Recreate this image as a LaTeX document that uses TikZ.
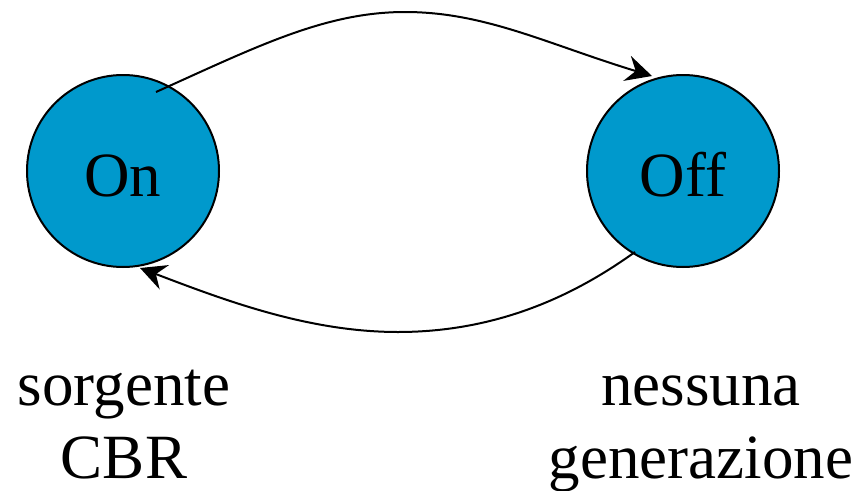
\documentclass[tikz,border=0pt]{standalone}
\usepackage{fontspec}
\setmainfont{LiberationSerif}[Extension=.ttf,UprightFont=*-Regular,BoldFont=*-Bold,ItalicFont=*-Italic,BoldItalicFont=*-BoldItalic]
\usetikzlibrary{arrows.meta}
\definecolor{statefill}{RGB}{0,153,204}
\begin{document}
\begin{tikzpicture}[x=1pt,y=-1pt,
  state/.style={circle,draw=black,line width=2pt,fill=statefill,minimum size=192pt,inner sep=0pt,
    font=\rmfamily\fontsize{63}{73}\selectfont,text height=50pt,text depth=0pt},
  caption/.style={font=\rmfamily\fontsize{63}{73}\selectfont,align=center,anchor=base,inner sep=0pt},
  conn/.style={line width=2pt,-{Stealth[length=26pt,width=26pt,inset=9pt]}}]
\useasboundingbox (0,0) rectangle (867,490);
\node[state] (on) at (123,171) {On};
\node[state] (off) at (683,171) {Off};
\node[caption] (lon) at (124,478) {sorgente\\CBR};
\node[caption] (loff) at (701,478) {nessuna\\generazione};
\coordinate (a1) at ([shift={(33,-79)}]on.center);
\coordinate (b1) at ([shift={(-31,-95)}]off.center);
\coordinate (p1) at (405,12);
\coordinate (a2) at ([shift={(-48,81)}]off.center);
\coordinate (b2) at ([shift={(17,97)}]on.center);
\coordinate (p2) at (398,332);
\draw[conn] (a1) .. controls (256,47) and (325,12) .. (p1)
  .. controls (485,12) and (547,44) .. (b1);
\draw[conn] (a2) .. controls (586,287) and (508,332) .. (p2)
  .. controls (308,332) and (224,300) .. (b2);
\end{tikzpicture}
\end{document}
